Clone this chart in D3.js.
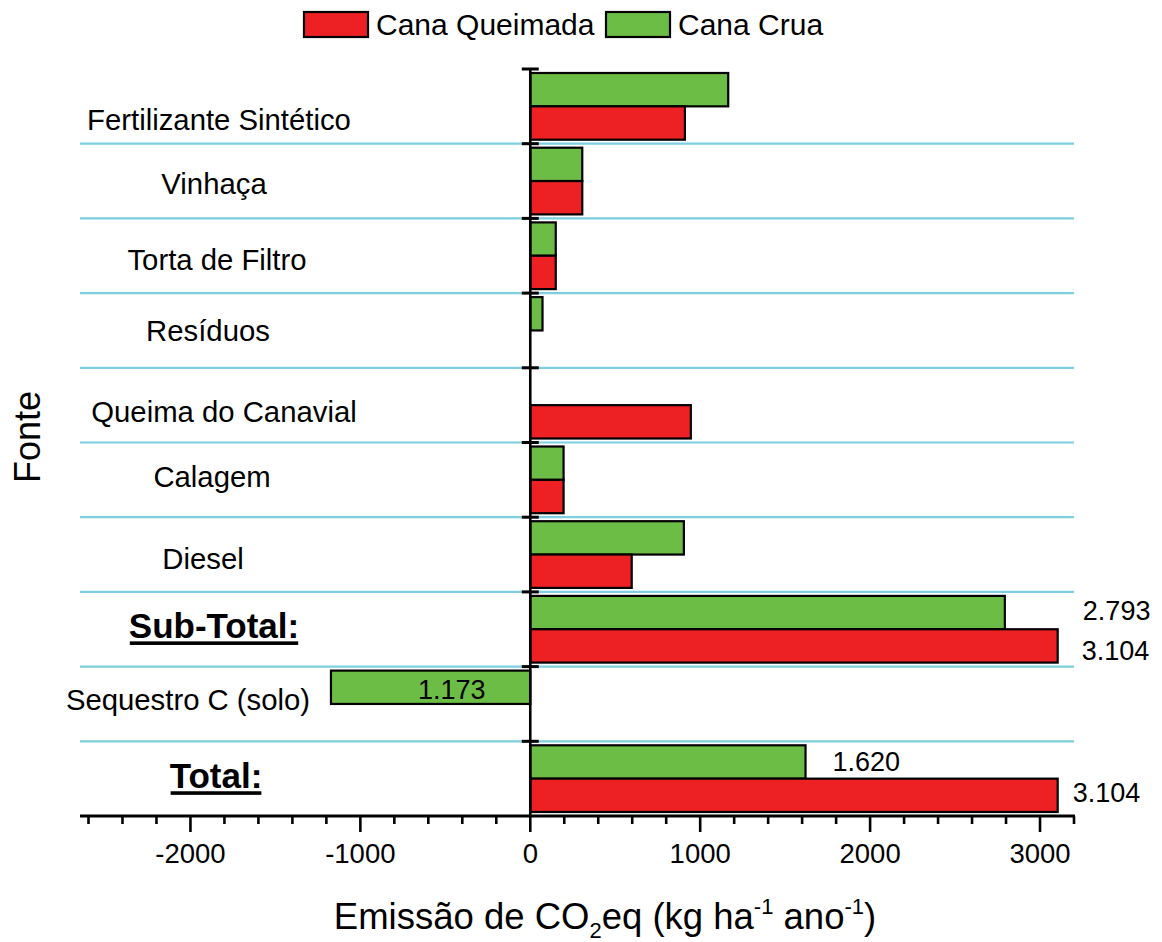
<!DOCTYPE html>
<html>
<head>
<meta charset="utf-8">
<script src="https://cdn.jsdelivr.net/npm/d3@7"></script>
<style>
  html, body { margin: 0; padding: 0; background: #fff; }
  svg { display: block; font-family: "Liberation Sans", Arial, Helvetica, sans-serif; }
</style>
</head>
<body>
<svg id="chart" width="1162" height="942"></svg>
<script>
// Emission sources (kg CO2eq per hectare per year)
const categories = [
  "Fertilizante Sintético", "Vinhaça", "Torta de Filtro", "Resíduos",
  "Queima do Canavial", "Calagem", "Diesel", "Sub-Total:",
  "Sequestro C (solo)", "Total:"
];
const seriesNames = ["Cana Queimada", "Cana Crua"];
const canaQueimada = [910, 306, 150, 0, 945, 196, 597, 3104, 0, 3104];
const canaCrua     = [1165, 306, 150, 72, 0, 196, 904, 2793, -1173, 1620];
const majorTicks = [-2000, -1000, 0, 1000, 2000, 3000];
const minorTicks = d3.range(-2600, 3201, 200);
const boldCategories = ["Sub-Total:", "Total:"];
// bars whose value is printed next to them: [category, series key]
const labelledBars = [
  ["Sub-Total:", "crua"], ["Sub-Total:", "queimada"],
  ["Sequestro C (solo)", "crua"],
  ["Total:", "crua"], ["Total:", "queimada"]
];

// ---- layout ----
const plot = { left: 80, right: 1074, top: 69, bottom: 816 };
const colors = { queimada: "#ed2024", crua: "#6cbd45", grid: "#7dcfdf" };
// per-category label placement: centre x and baseline offset from band centre
const catLabelX  = [219, 214, 217, 208, 224, 212, 203, 214, 188, 216];
const catLabelDy = [23.6, 13, 13.8, 11, 17.3, 7.6, 14, 8.5, 6, 9];
// value label offsets: dx from bar end, dy from bar centre (baseline)
const valueLabelOffsets = [[78, 7], [24, 14.5], [87, 11.5], [27, 9], [15, 7]];

const svg = d3.select("#chart");
const fmt = d3.formatLocale({ decimal: ",", thousands: ".", grouping: [3], currency: ["R$", ""] }).format(",d");

const x = d3.scaleLinear().domain([-2650, 3200]).range([plot.left, plot.right]);
const y = d3.scaleBand().domain(categories).range([plot.top, plot.bottom]).padding(0);
const inner = d3.scaleBand().domain(["crua", "queimada"]).range([0, y.bandwidth()])
  .paddingInner(0).paddingOuter(0.12);

const rows = categories.map((c, i) => ({ cat: c, i, queimada: canaQueimada[i], crua: canaCrua[i] }));

// horizontal separators between categories
const boundaries = categories.slice(1).map(c => y(c));
svg.append("g").selectAll("line").data(boundaries).join("line")
  .attr("x1", plot.left).attr("x2", plot.right)
  .attr("y1", d => d).attr("y2", d => d)
  .attr("stroke", colors.grid).attr("stroke-width", 2.2);

// bars
const barData = [];
rows.forEach(r => {
  ["crua", "queimada"].forEach(k => {
    if (r[k] !== 0) barData.push({ cat: r.cat, key: k, value: r[k] });
  });
});
svg.append("g").selectAll("rect").data(barData).join("rect")
  .attr("x", d => x(Math.min(0, d.value)))
  .attr("width", d => Math.abs(x(d.value) - x(0)))
  .attr("y", d => y(d.cat) + inner(d.key))
  .attr("height", inner.bandwidth())
  .attr("fill", d => colors[d.key])
  .attr("stroke", "#000").attr("stroke-width", 2.2);

// vertical zero axis with ticks at band edges
svg.append("line")
  .attr("x1", x(0)).attr("x2", x(0)).attr("y1", plot.top).attr("y2", plot.bottom)
  .attr("stroke", "#000").attr("stroke-width", 2.6);
const edgeTicks = categories.map(c => y(c));
svg.append("g").selectAll("line").data(edgeTicks).join("line")
  .attr("x1", x(0) - 8.5).attr("x2", x(0) + 8.5)
  .attr("y1", d => d).attr("y2", d => d)
  .attr("stroke", "#000").attr("stroke-width", 3);

// bottom axis
const xAxis = svg.append("g");
xAxis.append("line")
  .attr("x1", plot.left).attr("x2", plot.right + 1)
  .attr("y1", plot.bottom).attr("y2", plot.bottom)
  .attr("stroke", "#000").attr("stroke-width", 3);
xAxis.selectAll("line.minor").data(minorTicks.filter(t => !majorTicks.includes(t))).join("line")
  .attr("class", "minor")
  .attr("x1", d => x(d)).attr("x2", d => x(d))
  .attr("y1", plot.bottom).attr("y2", plot.bottom + 8)
  .attr("stroke", "#000").attr("stroke-width", 2.6);
xAxis.selectAll("line.major").data(majorTicks).join("line")
  .attr("class", "major")
  .attr("x1", d => x(d)).attr("x2", d => x(d))
  .attr("y1", plot.bottom).attr("y2", plot.bottom + 16)
  .attr("stroke", "#000").attr("stroke-width", 2.6);
xAxis.selectAll("text").data(majorTicks).join("text")
  .attr("x", d => x(d)).attr("y", 863)
  .attr("text-anchor", "middle")
  .attr("font-size", 27.5).attr("fill", "#000")
  .text(d => d3.format("d")(d).replace("−", "-"));

// category labels
const catLabels = svg.append("g");
categories.forEach((c, i) => {
  const bold = boldCategories.includes(c);
  const t = catLabels.append("text")
    .attr("x", catLabelX[i])
    .attr("y", y(c) + y.bandwidth() / 2 + catLabelDy[i])
    .attr("text-anchor", "middle")
    .attr("font-size", bold ? 35 : 29.3)
    .attr("font-weight", bold ? "bold" : "normal")
    .attr("fill", "#000")
    .text(c);
  if (bold) {
    const bb = t.node().getBBox();
    catLabels.append("rect")
      .attr("x", bb.x + 1).attr("width", bb.width - 2)
      .attr("y", +t.attr("y") + 3.6).attr("height", 3.6)
      .attr("fill", "#000");
  }
});

// value labels
labelledBars.forEach(([cat, key], j) => {
  const v = rows.find(r => r.cat === cat)[key];
  const [dx, dy] = valueLabelOffsets[j];
  svg.append("text")
    .attr("x", x(v) + dx)
    .attr("y", y(cat) + inner(key) + inner.bandwidth() / 2 + dy)
    .attr("font-size", 27).attr("fill", "#000")
    .text(fmt(Math.abs(v)));
});

// axis titles
const xt = svg.append("text")
  .attr("x", 605).attr("y", 929)
  .attr("text-anchor", "middle").attr("font-size", 36.5).attr("fill", "#000");
xt.append("tspan").text("Emissão de CO");
xt.append("tspan").attr("font-size", 22).attr("dy", 9).text("2");
xt.append("tspan").attr("dy", -9).text("eq (kg ha");
xt.append("tspan").attr("font-size", 22).attr("dy", -15).text("-1");
xt.append("tspan").attr("dy", 15).text(" ano");
xt.append("tspan").attr("font-size", 22).attr("dy", -15).text("-1");
xt.append("tspan").attr("dy", 15).text(")");

svg.append("text")
  .attr("transform", "translate(40,437) rotate(-90)")
  .attr("text-anchor", "middle").attr("font-size", 36).attr("fill", "#000")
  .text("Fonte");

// legend
const legendItems = [
  { name: seriesNames[0], key: "queimada", x: 304 },
  { name: seriesNames[1], key: "crua", x: 606 }
];
const lg = svg.append("g");
legendItems.forEach(it => {
  lg.append("rect")
    .attr("x", it.x).attr("y", 12).attr("width", 64).attr("height", 25)
    .attr("fill", colors[it.key]).attr("stroke", "#000").attr("stroke-width", 2.2);
  lg.append("text")
    .attr("x", it.x + 72).attr("y", 35)
    .attr("font-size", 30).attr("fill", "#000")
    .text(it.name);
});
</script>
</body>
</html>
